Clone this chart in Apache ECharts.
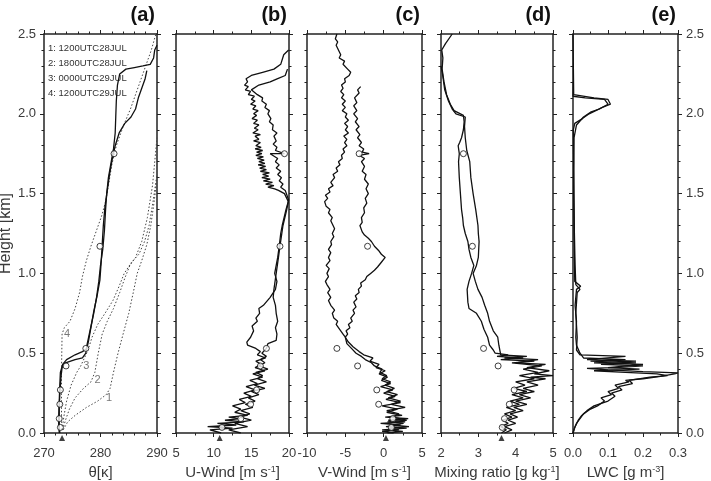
<!DOCTYPE html>
<html>
<head>
<meta charset="utf-8">
<script src="https://cdn.jsdelivr.net/npm/echarts@6/dist/echarts.min.js"></script>
<style>
  html, body { margin: 0; padding: 0; background: #fff; }
  #chart { width: 711px; height: 481px; }
</style>
</head>
<body>
<div id="chart"></div>
<script>
// heights in km, x values per panel
var circleHeights = [0.035, 0.09, 0.18, 0.27, 0.42, 0.53, 1.17, 1.75];

// (a) potential temperature
var thetaObs1 = [[273.4,0.02],[274.2,0.07],[275.5,0.11],[277.5,0.16],[279.5,0.2],[281,0.24],[281.7,0.28],[282.3,0.38],[283.1,0.5],[284,0.62],[285,0.75],[285.8,0.88],[286.5,1.0],[287.3,1.08],[288.2,1.18],[288.9,1.3],[289.5,1.45],[290,1.6]];
var thetaObs2 = [[273.3,0.02],[273.8,0.08],[274.5,0.15],[275.5,0.22],[277,0.28],[278.3,0.32],[279,0.38],[279.6,0.5],[280.3,0.62],[281.2,0.7],[282.3,0.78],[283.4,0.88],[284.3,0.97],[285.2,1.05],[286.2,1.1],[287.3,1.2],[288.3,1.35],[289.2,1.55],[290,1.85]];
var thetaObs3 = [[273.2,0.02],[273.5,0.1],[274,0.2],[274.8,0.3],[275.8,0.38],[276.5,0.42],[277.8,0.52],[278.5,0.6],[279.5,0.68],[280.8,0.75],[282.2,0.83],[283.3,0.92],[284.2,1.0],[285.5,1.07],[286.8,1.12],[287.8,1.2],[288.6,1.3],[289.3,1.45],[290,1.62]];
var thetaObs4 = [[273.1,0.02],[273.1,0.2],[273.1,0.4],[273.2,0.62],[273.6,0.66],[274.6,0.7],[275.5,0.78],[276.3,0.88],[276.8,0.98],[277.5,1.08],[278.3,1.17],[279.2,1.26],[280.2,1.36],[280.9,1.45],[281.4,1.55],[282,1.68],[282.8,1.8],[284,1.92],[285.3,2.03],[286.5,2.15],[287.8,2.28],[289,2.4],[289.8,2.5]];
var thetaA = [[272.7,0],[272.6,0.05],[272.6,0.1],[272.7,0.2],[272.8,0.3],[272.9,0.38],[273.3,0.43],[274,0.46],[275.5,0.49],[276.8,0.51],[277.6,0.53],[277.9,0.58],[278.3,0.66],[278.8,0.76],[279.4,0.86],[279.9,0.96],[280.1,1.06],[280.3,1.18],[280.5,1.3],[280.8,1.42],[281.2,1.52],[281.6,1.62],[282.1,1.72],[282.6,1.8],[283.3,1.88],[284.3,1.94],[285.4,1.98],[286.2,2.03],[286.7,2.1],[287.3,2.16],[287.9,2.22],[288.2,2.27]];
var thetaB = [[272.8,0],[272.7,0.05],[272.7,0.15],[272.8,0.25],[273,0.35],[273.2,0.41],[273.8,0.44],[275.5,0.46],[276.8,0.47],[277.4,0.5],[277.6,0.55],[278.2,0.65],[278.8,0.75],[279.3,0.85],[279.7,0.95],[280,1.05],[280.4,1.15],[280.7,1.27],[280.9,1.4],[281.1,1.5],[281.4,1.6],[281.9,1.7],[282.3,1.78],[282.6,1.88],[282.7,1.98],[282.8,2.08],[283,2.18],[283.4,2.25],[284.5,2.28],[286,2.29],[287.5,2.3],[288.8,2.31],[289.4,2.35],[289.6,2.4],[290,2.43]];
var thetaCircles = [272.9, 272.7, 272.8, 272.9, 273.9, 277.4, 279.9, 282.4];
var thetaLabels = [[281.5,0.22,'1'],[279.5,0.33,'2'],[277.5,0.42,'3'],[274.1,0.62,'4']];
var legendLines = ['1: 1200UTC28JUL', '2: 1800UTC28JUL', '3: 0000UTC29JUL', '4: 1200UTC29JUL'];

// (b) U-wind
var uWind1 = [[11,0.0],[9.5,0.02],[12.5,0.03],[9.2,0.04],[13,0.05],[10.5,0.06],[14,0.07],[11.5,0.08],[13.5,0.09],[12,0.1],[14.5,0.11],[12.8,0.13],[13.6,0.15],[12.5,0.17],[14.2,0.19],[13.4,0.21],[15,0.23],[14,0.25],[15.5,0.27],[14.3,0.29],[15.8,0.31],[14.8,0.33],[16.5,0.35],[15.2,0.37],[16.8,0.39],[15.5,0.41],[16.3,0.43],[15.6,0.45],[16.9,0.47],[15.8,0.49],[16.2,0.51],[15.6,0.53],[14.5,0.55],[14.4,0.57],[14.9,0.6],[15.3,0.64],[15.1,0.67],[15.8,0.7],[15.6,0.72],[16.1,0.75],[16.0,0.78],[16.6,0.8],[17.5,0.85],[18.2,0.9],[18.4,0.95],[18.1,1.0],[18.3,1.05],[18.5,1.1],[18.7,1.17],[18.9,1.25],[19.1,1.3],[19.6,1.4],[19.9,1.45],[19.4,1.5],[18.6,1.52],[18.1,1.53],[17.2,1.54],[18.0,1.55],[16.9,1.56],[17.8,1.57],[16.6,1.58],[17.5,1.59],[16.4,1.6],[17.3,1.61],[16.5,1.62],[17.4,1.63],[16.2,1.64],[17.0,1.65],[16.1,1.66],[16.9,1.67],[15.9,1.68],[16.8,1.69],[16.0,1.7],[16.7,1.71],[15.8,1.72],[16.6,1.73],[15.6,1.74],[16.4,1.75],[15.7,1.76],[16.5,1.77],[15.5,1.78],[16.3,1.79],[15.6,1.8],[16.2,1.82],[15.3,1.83],[16.0,1.84],[15.5,1.86],[16.2,1.87],[15.2,1.88],[15.9,1.9],[15.4,1.91],[16.0,1.93],[15.3,1.94],[15.8,1.96],[15.1,1.97],[15.7,1.99],[15.3,2.0],[15.9,2.02],[15.2,2.03],[15.6,2.05],[14.9,2.06],[15.5,2.08],[15.0,2.09],[15.4,2.11],[14.6,2.12],[14.9,2.14],[14.2,2.15],[14.6,2.17],[14.1,2.18],[14.5,2.2],[14.3,2.22],[15,2.24],[16.5,2.26],[18,2.28],[18.9,2.31],[19.3,2.37],[19.95,2.4]];
var uWind2 = [[13.6,0.0],[12,0.02],[14.5,0.04],[12.8,0.06],[15,0.08],[13.5,0.1],[14.8,0.12],[13.6,0.14],[15.2,0.16],[14.2,0.18],[15.5,0.2],[14.6,0.22],[16,0.24],[15,0.26],[16.8,0.28],[15.4,0.3],[17,0.32],[15.8,0.34],[16.5,0.36],[15.6,0.38],[17.2,0.4],[16,0.42],[16.8,0.44],[16.2,0.46],[17,0.48],[16.4,0.5],[17,0.53],[17.2,0.56],[18.3,0.58],[18.4,0.62],[18.2,0.66],[18.5,0.7],[18.3,0.75],[18.2,0.8],[17.9,0.85],[18,0.9],[18.3,1.0],[18.6,1.1],[18.8,1.17],[19.2,1.3],[19.7,1.4],[19.95,1.46],[19.5,1.52],[18.9,1.54],[19.2,1.56],[18.7,1.58],[19.0,1.6],[18.5,1.62],[18.9,1.64],[18.3,1.66],[18.7,1.68],[18.2,1.7],[18.5,1.72],[17.5,1.75],[19.4,1.75],[18.2,1.77],[18.4,1.79],[17.9,1.81],[18.3,1.83],[18.0,1.86],[18.4,1.88],[17.8,1.9],[17.9,1.93],[17.4,1.95],[17.6,1.97],[17.2,2.0],[17.4,2.02],[16.8,2.04],[17.0,2.06],[16.4,2.08],[16.5,2.1],[15.8,2.12],[15,2.15],[16,2.18],[17.5,2.2],[18.5,2.22],[19.5,2.24],[19.8,2.28]];
var uCircles = [11.1, 13.6, 14.9, 15.7, 16.2, 17.0, 18.8, 19.4];

// (c) V-wind
var vWind1 = [[0.5,0],[2.5,0.01],[-0.2,0.02],[3,0.03],[0.3,0.04],[2.2,0.05],[-0.4,0.06],[2.8,0.07],[0.6,0.08],[3.2,0.09],[0.2,0.1],[2.4,0.11],[0.4,0.13],[1.8,0.15],[-0.2,0.17],[2.2,0.19],[0.3,0.21],[1.5,0.23],[0,0.25],[1.2,0.27],[-0.4,0.29],[0.9,0.31],[-0.3,0.33],[0.5,0.35],[-0.6,0.37],[0.2,0.39],[-1,0.41],[-0.6,0.43],[-1.8,0.45],[-1.4,0.47],[-2.6,0.49],[-3.2,0.51],[-4,0.54],[-4.6,0.57],[-5,0.6],[-5.3,0.62],[-5.6,0.64],[-5.9,0.66],[-6.2,0.68],[-6.0,0.7],[-6.5,0.72],[-6.7,0.75],[-6.4,0.77],[-6.9,0.8],[-7.2,0.83],[-6.9,0.85],[-7.3,0.88],[-7.0,0.9],[-7.4,0.93],[-7.6,0.95],[-7.2,0.98],[-7.4,1.0],[-7.1,1.03],[-7.5,1.05],[-7.0,1.08],[-7.2,1.1],[-6.9,1.13],[-7.2,1.15],[-6.8,1.18],[-6.9,1.2],[-6.5,1.23],[-6.7,1.25],[-6.4,1.28],[-6.6,1.3],[-6.9,1.33],[-6.7,1.35],[-7.2,1.38],[-7.0,1.4],[-7.5,1.42],[-7.7,1.45],[-7.3,1.47],[-7.6,1.49],[-7.0,1.51],[-7.2,1.53],[-6.6,1.55],[-6.9,1.57],[-6.4,1.6],[-6.6,1.62],[-6.0,1.64],[-6.2,1.66],[-5.7,1.68],[-5.9,1.7],[-5.4,1.72],[-5.5,1.74],[-5.1,1.76],[-5.3,1.78],[-4.8,1.8],[-5.1,1.82],[-4.8,1.84],[-5.2,1.86],[-4.6,1.88],[-5.0,1.9],[-4.7,1.92],[-5.1,1.94],[-4.6,1.96],[-5.0,1.98],[-4.8,2.0],[-5.4,2.02],[-5.0,2.04],[-5.4,2.06],[-5.0,2.08],[-5.5,2.1],[-5.2,2.12],[-5.6,2.14],[-5.3,2.16],[-5.5,2.18],[-5.0,2.2],[-5.1,2.22],[-4.5,2.24],[-4.3,2.26],[-4.7,2.28],[-5.3,2.31],[-5.1,2.33],[-5.8,2.35],[-5.6,2.37],[-5.9,2.4],[-6.2,2.43],[-6.0,2.45],[-6.3,2.47],[-6.1,2.5]];
var vWind2 = [[1.3,0],[-0.2,0.01],[2,0.02],[0.6,0.03],[3.3,0.04],[1,0.05],[2.6,0.06],[0.5,0.07],[3,0.08],[1.2,0.1],[2,0.12],[0.4,0.14],[2.8,0.16],[1,0.18],[2.2,0.2],[0.6,0.22],[1.8,0.24],[0.4,0.26],[1.4,0.28],[0.2,0.3],[0.9,0.32],[-0.2,0.34],[0.4,0.36],[-0.5,0.38],[-0.2,0.4],[-1.2,0.42],[-1.6,0.44],[-2.4,0.46],[-2.9,0.48],[-3.6,0.5],[-4.2,0.53],[-4.8,0.56],[-5,0.6],[-4.7,0.62],[-4.9,0.64],[-4.4,0.66],[-4.6,0.68],[-4.1,0.7],[-4.3,0.72],[-3.8,0.75],[-4.0,0.77],[-3.6,0.79],[-3.9,0.82],[-3.5,0.84],[-3.7,0.86],[-3.2,0.88],[-3.3,0.9],[-2.9,0.92],[-3.0,0.94],[-2.4,0.96],[-2.2,0.98],[-1.7,1.0],[-1.2,1.02],[-0.8,1.04],[-0.3,1.07],[0.2,1.1],[-0.3,1.12],[-0.6,1.14],[-1.2,1.17],[-1.6,1.2],[-2.0,1.22],[-2.5,1.24],[-2.8,1.26],[-3.1,1.3],[-2.8,1.32],[-2.9,1.35],[-2.5,1.38],[-2.6,1.41],[-2.2,1.44],[-2.4,1.47],[-2.0,1.5],[-2.3,1.53],[-2.0,1.56],[-2.5,1.59],[-2.3,1.62],[-2.8,1.64],[-2.5,1.67],[-2.9,1.7],[-2.5,1.72],[-3.2,1.74],[-1.9,1.75],[-2.8,1.76],[-2.6,1.78],[-3.2,1.8],[-2.9,1.82],[-3.4,1.85],[-3.1,1.87],[-3.6,1.9],[-3.2,1.92],[-3.7,1.95],[-3.4,1.97],[-3.9,2.0],[-3.5,2.02],[-3.9,2.05],[-3.5,2.07],[-3.8,2.1],[-3.2,2.13],[-3.4,2.15],[-3.0,2.17]];
var vCircles = [1.0, 1.2, -0.65, -0.9, -3.4, -6.1, -2.1, -3.2];

// (d) mixing ratio
var mix1 = [[3.62,0],[3.75,0.02],[3.6,0.04],[3.8,0.06],[3.65,0.08],[3.9,0.1],[3.7,0.12],[4.0,0.14],[3.75,0.16],[4.1,0.18],[3.85,0.2],[4.2,0.22],[3.9,0.24],[4.3,0.26],[3.95,0.28],[4.25,0.3],[4.0,0.32],[4.5,0.34],[4.1,0.36],[4.6,0.38],[4.2,0.4],[4.7,0.42],[3.9,0.44],[4.5,0.45],[3.6,0.46],[4.2,0.47],[3.5,0.48],[3.8,0.49],[3.45,0.5],[3.4,0.52],[3.3,0.55],[3.25,0.6],[3.15,0.65],[3.08,0.7],[2.95,0.75],[2.75,0.78],[2.72,0.82],[2.7,0.9],[2.75,0.95],[2.82,1.0],[2.88,1.05],[2.8,1.1],[2.75,1.15],[2.72,1.2],[2.65,1.25],[2.6,1.3],[2.58,1.35],[2.55,1.4],[2.52,1.5],[2.49,1.6],[2.47,1.7],[2.49,1.75],[2.46,1.8],[2.5,1.82],[2.55,1.85],[2.6,1.9],[2.62,1.95],[2.6,1.99],[2.35,2.02],[2.25,2.06],[2.15,2.12],[2.08,2.2],[2.03,2.28],[2.05,2.35],[2.02,2.4],[2.12,2.44],[2.3,2.5]];
var mix2 = [[3.7,0],[3.9,0.02],[3.7,0.04],[4.0,0.06],[3.8,0.08],[4.05,0.1],[3.85,0.12],[4.2,0.14],[3.95,0.16],[4.3,0.18],[4.0,0.2],[4.4,0.22],[4.1,0.24],[4.5,0.26],[4.2,0.28],[4.6,0.3],[4.3,0.32],[4.8,0.34],[4.4,0.35],[5.0,0.36],[4.5,0.37],[4.9,0.39],[4.3,0.41],[4.8,0.43],[4.0,0.44],[4.6,0.46],[3.7,0.47],[4.3,0.48],[3.6,0.49],[3.57,0.5],[3.55,0.55],[3.52,0.6],[3.4,0.64],[3.3,0.7],[3.25,0.75],[3.17,0.8],[3.1,0.85],[2.99,0.9],[2.92,0.95],[2.86,1.0],[2.95,1.05],[3.0,1.1],[3.02,1.2],[3.0,1.25],[2.99,1.3],[2.93,1.4],[2.86,1.5],[2.8,1.6],[2.77,1.7],[2.69,1.77],[2.65,1.85],[2.63,1.92],[2.65,1.98],[2.4,2.0],[2.3,2.03],[2.2,2.08],[2.1,2.15],[2.04,2.25],[2.0,2.3]];
var mixCircles = [3.64, 3.7, 3.83, 3.96, 3.53, 3.14, 2.84, 2.6];

// (e) liquid water content
var lwc1 = [[0,0],[0.004,0.03],[0.01,0.06],[0.02,0.09],[0.03,0.12],[0.05,0.15],[0.07,0.17],[0.09,0.2],[0.08,0.22],[0.11,0.24],[0.1,0.26],[0.13,0.28],[0.12,0.3],[0.16,0.32],[0.15,0.33],[0.2,0.34],[0.25,0.355],[0.29,0.37],[0.3,0.377],[0.2,0.385],[0.1,0.395],[0.04,0.405],[0.12,0.41],[0.2,0.42],[0.08,0.43],[0.18,0.44],[0.05,0.45],[0.15,0.46],[0.03,0.47],[0.02,0.5],[0.01,0.55],[0.008,0.6],[0.01,0.7],[0.006,0.8],[0.01,0.9],[0.022,0.92],[0.005,0.95],[0.004,1.1],[0.003,1.3],[0.002,1.5],[0.002,1.7],[0.001,1.9],[0.005,1.94],[0.027,1.97],[0.046,2.0],[0.065,2.02],[0.084,2.04],[0.107,2.06],[0.1,2.09],[0.06,2.1],[0.002,2.12],[0.001,2.3],[0,2.5]];
var lwc2 = [[0,0],[0.006,0.04],[0.015,0.08],[0.025,0.11],[0.04,0.14],[0.06,0.17],[0.1,0.2],[0.12,0.23],[0.11,0.25],[0.14,0.27],[0.13,0.29],[0.17,0.31],[0.16,0.33],[0.22,0.35],[0.27,0.36],[0.24,0.37],[0.15,0.38],[0.06,0.39],[0.19,0.4],[0.1,0.41],[0.2,0.43],[0.06,0.44],[0.18,0.45],[0.04,0.46],[0.15,0.48],[0.02,0.49],[0.01,0.52],[0.012,0.6],[0.008,0.75],[0.012,0.88],[0.02,0.9],[0.008,0.93],[0.006,1.05],[0.004,1.25],[0.003,1.45],[0.002,1.65],[0.003,1.85],[0.01,1.93],[0.03,1.98],[0.05,2.01],[0.075,2.03],[0.1,2.06],[0.09,2.09],[0.035,2.1],[0,2.11],[0.001,2.2]];

// surface triangles (x value per panel a-d)
var surfaceMarks = [273.2, 10.8, 0.3, 3.62];

var FONT = 'Liberation Sans, Arial, Helvetica, sans-serif';
var INK = '#222';
var TXT = '#3a3a3a';

// layout of each panel
var panels = [
  { left: 44,  width: 113, min: 270, max: 290, interval: 10,  split: 5, dec: 0, title: '(a)', name: '{t|θ[κ]}' },
  { left: 176, width: 113, min: 5,   max: 20,  interval: 5,   split: 2, dec: 0, title: '(b)', name: '{t|U-Wind [m s}{s|-1}{t|]}' },
  { left: 307, width: 115, min: -10, max: 5,   interval: 5,   split: 2, dec: 0, title: '(c)', name: '{t|V-Wind [m s}{s|-1}{t|]}' },
  { left: 441, width: 112, min: 2,   max: 5,   interval: 1,   split: 2, dec: 0, title: '(d)', name: '{t|Mixing ratio [g kg}{s|-1}{t|]}' },
  { left: 573, width: 105, min: 0,   max: 0.3, interval: 0.1, split: 2, dec: 1, title: '(e)', name: '{t|LWC [g m}{s|-3}{t|]}' }
];
var TOP = 34, HEIGHT = 399;

var nameRich = {
  t: { fontSize: 15, color: TXT, fontFamily: FONT, lineHeight: 16 },
  s: { fontSize: 9, color: TXT, fontFamily: FONT, verticalAlign: 'top', lineHeight: 16 }
};

var grids = [], xAxes = [], yAxes = [], series = [], graphics = [];

panels.forEach(function (p, i) {
  // keep the plot box exactly where it is set; do not shrink it to fit labels
  grids.push({ left: p.left, top: TOP, width: p.width, height: HEIGHT,
    containLabel: false, outerBoundsMode: 'none' });
  var baseX = {
    type: 'value', gridIndex: i, min: p.min, max: p.max, interval: p.interval,
    axisLine: { show: true, onZero: false, lineStyle: { color: INK, width: 1.5 } },
    axisTick: { show: true, length: 4, lineStyle: { color: INK, width: 1 } },
    minorTick: { show: true, splitNumber: p.split, length: 2.5, lineStyle: { color: INK } },
    splitLine: { show: false }, minorSplitLine: { show: false }
  };
  xAxes.push(Object.assign({}, baseX, {
    position: 'bottom',
    axisLabel: { margin: 14, fontSize: 13, color: TXT, fontFamily: FONT,
      formatter: function (v) { return v.toFixed(p.dec); } },
    name: p.name, nameLocation: 'middle', nameGap: 29,
    nameTextStyle: { rich: nameRich }
  }));
  xAxes.push(Object.assign({}, baseX, { position: 'top', axisLabel: { show: false } }));

  var baseY = {
    type: 'value', gridIndex: i, min: 0, max: 2.5, interval: 0.5,
    axisLine: { show: true, onZero: false, lineStyle: { color: INK, width: 1.5 } },
    axisTick: { show: true, length: 4, lineStyle: { color: INK, width: 1 } },
    minorTick: { show: true, splitNumber: 5, length: 2.5, lineStyle: { color: INK } },
    splitLine: { show: false }, minorSplitLine: { show: false }
  };
  var labelY = { fontSize: 13, color: TXT, fontFamily: FONT, margin: 8,
    formatter: function (v) { return v.toFixed(1); } };
  yAxes.push(Object.assign({}, baseY, {
    position: 'left',
    axisLabel: i === 0 ? labelY : { show: false },
    name: i === 0 ? 'Height [km]' : '', nameLocation: 'middle', nameGap: 28,
    nameTextStyle: { fontSize: 16, color: TXT, fontFamily: FONT }
  }));
  yAxes.push(Object.assign({}, baseY, {
    position: 'right',
    axisLabel: i === 4 ? labelY : { show: false }
  }));

  graphics.push({
    type: 'text', right: 711 - (p.left + p.width) + 2, top: 5,
    style: { text: p.title, font: 'bold 20px ' + FONT, fill: '#111' }
  });
});

function line(i, data, dotted) {
  return {
    type: 'line', xAxisIndex: 2 * i, yAxisIndex: 2 * i, data: data,
    showSymbol: false, symbol: 'none', silent: true, animation: false,
    lineStyle: dotted ? { color: '#444', width: 1, type: [1.5, 2] } : { color: '#111', width: 1.3 },
    z: dotted ? 2 : 3
  };
}
function circles(i, xs) {
  return {
    type: 'scatter', xAxisIndex: 2 * i, yAxisIndex: 2 * i, animation: false,
    data: xs.map(function (x, k) { return [x, circleHeights[k]]; }),
    symbol: 'circle', symbolSize: 6,
    itemStyle: { color: '#fff', borderColor: '#111', borderWidth: 1 }, z: 5
  };
}

series.push(line(0, thetaObs1, true), line(0, thetaObs2, true), line(0, thetaObs3, true), line(0, thetaObs4, true));
series.push(line(0, thetaA), line(0, thetaB), circles(0, thetaCircles));
series.push({
  type: 'scatter', xAxisIndex: 0, yAxisIndex: 0, animation: false, symbolSize: 0,
  data: thetaLabels,
  label: { show: true, position: 'inside', formatter: function (d) { return d.value[2]; },
    fontSize: 11, color: '#555', fontFamily: FONT }
});
series.push(line(1, uWind1), line(1, uWind2), circles(1, uCircles));
series.push(line(2, vWind1), line(2, vWind2), circles(2, vCircles));
series.push(line(3, mix1), line(3, mix2), circles(3, mixCircles));
series.push(line(4, lwc1), line(4, lwc2));

surfaceMarks.forEach(function (x, i) {
  series.push({
    type: 'scatter', xAxisIndex: 2 * i, yAxisIndex: 2 * i, animation: false, clip: false,
    data: [[x, -0.032]], symbol: 'triangle', symbolSize: 6,
    itemStyle: { color: '#111' }, z: 6
  });
});

legendLines.forEach(function (t, k) {
  graphics.push({
    type: 'text', left: 48, top: 43 + k * 15,
    style: { text: t, font: '9.5px ' + FONT, fill: '#333' }
  });
});

var chart = echarts.init(document.getElementById('chart'));
chart.setOption({
  backgroundColor: '#fff',
  animation: false,
  grid: grids,
  xAxis: xAxes,
  yAxis: yAxes,
  series: series,
  graphic: graphics
});
</script>
</body>
</html>
